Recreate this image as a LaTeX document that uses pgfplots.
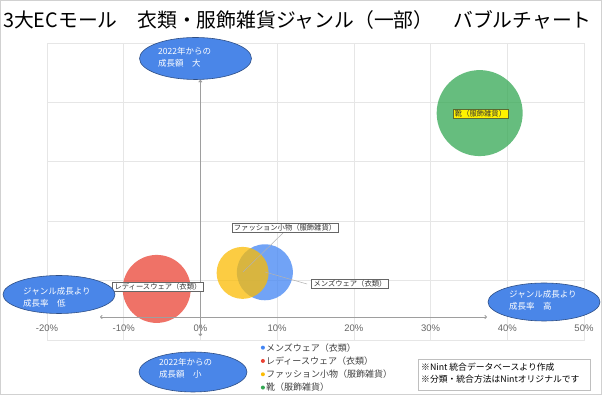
\documentclass[border=0pt]{standalone}
\usepackage{fontspec}
\setmainfont{Noto Sans CJK JP}
\newfontfamily\arial{Liberation Sans}
\usepackage{pgfplots}
\usepackage{pgfplotstable}
\pgfplotsset{compat=1.18}
\usetikzlibrary{arrows.meta}
\definecolor{gblue}{HTML}{4285F4}
\definecolor{gred}{HTML}{EA4335}
\definecolor{gyellow}{HTML}{FBBC04}
\definecolor{ggreen}{HTML}{34A853}
\definecolor{gridc}{HTML}{E6E6E6}
\definecolor{tickc}{HTML}{666666}
\definecolor{ellf}{HTML}{4A86E8}
\definecolor{elld}{HTML}{2E4F86}
\definecolor{arrowc}{HTML}{9E9E9E}
\definecolor{lblc}{HTML}{333333}
\definecolor{olive}{HTML}{5C6B2E}

% x: growth rate (%), y: growth amount (relative), r: bubble radius (pt)
\pgfplotstableread{
x y r
8.4 1.14 28
}\mens
\pgfplotstableread{
x y r
-5.7 0.86 34
}\ladies
\pgfplotstableread{
x y r
5.5 1.13 26
}\fashion
\pgfplotstableread{
x y r
36.4 3.82 43
}\shoes
\pgfplotstablegetelem{0}{r}\of\mens \let\rmens\pgfplotsretval
\pgfplotstablegetelem{0}{r}\of\ladies \let\rladies\pgfplotsretval
\pgfplotstablegetelem{0}{r}\of\fashion \let\rfashion\pgfplotsretval
\pgfplotstablegetelem{0}{r}\of\shoes \let\rshoes\pgfplotsretval

\begin{document}
\begin{tikzpicture}[x=1pt,y=1pt]
\useasboundingbox (0,0) rectangle (602,395);
\fill[white] (0,0) rectangle (602,395);
\draw[black!18] (0.5,0.5) rectangle (601.5,394.5);

\node[anchor=west, inner sep=0pt, font=\fontsize{19.8}{21}\selectfont] at (3,375)
  {3大ECモール　衣類・服飾雑貨ジャンル（一部）　バブルチャート};

\begin{axis}[
  at={(47pt,55pt)}, anchor=south west,
  scale only axis, width=537pt, height=297pt,
  xmin=-20, xmax=50, ymin=0, ymax=5,
  xtick={-20,-10,...,50}, ytick={0,1,...,5}, yticklabels={},
  grid=major, major grid style={gridc, line width=0.6pt},
  axis line style={gridc, line width=0.6pt},
  tick style={draw=none},
  /pgf/number format/assume math mode=true,
  xticklabel={\pgfmathprintnumber{\tick}\%},
  xticklabel style={anchor=center, yshift=12pt, font=\arial\fontsize{9.5}{10}\selectfont, text=tickc},
  legend image code/.code={\fill[#1, draw opacity=0] (0pt,0pt) circle (2pt);},
  legend cell align=left,
  legend style={at={(axis description cs:0.392,0.004)}, anchor=north west,
    draw=none, fill=none, row sep=0pt,
    font=\fontsize{9}{10}\selectfont,
    nodes={inner sep=1pt, text height=9pt, text depth=2.3pt, text=black!75}},
]
\addplot[forget plot, only marks, mark=*, mark size=\rmens, color=gblue,
  mark options={fill=gblue, draw opacity=0, fill opacity=0.75}] table[x=x,y=y] {\mens};
\addplot[forget plot, only marks, mark=*, mark size=\rladies, color=gred,
  mark options={fill=gred, draw opacity=0, fill opacity=0.75}] table[x=x,y=y] {\ladies};
\addplot[forget plot, only marks, mark=*, mark size=\rfashion, color=gyellow,
  mark options={fill=gyellow, draw opacity=0, fill opacity=0.75}] table[x=x,y=y] {\fashion};
\addplot[forget plot, only marks, mark=*, mark size=\rshoes, color=ggreen,
  mark options={fill=ggreen, draw opacity=0, fill opacity=0.75}] table[x=x,y=y] {\shoes};
\addlegendimage{fill=gblue}
\addlegendentry{メンズウェア（衣類）}
\addlegendimage{fill=gred}
\addlegendentry{レディースウェア（衣類）}
\addlegendimage{fill=gyellow}
\addlegendentry{ファッション小物（服飾雑貨）}
\addlegendimage{fill=ggreen}
\addlegendentry{靴（服飾雑貨）}
\end{axis}

% guide arrows
\draw[arrowc, line width=0.9pt, {To[length=2.5pt,width=4pt]}-{To[length=2.5pt,width=4pt]}] (100,78) -- (487,78);
\draw[arrowc, line width=1.1pt, {To[length=2.5pt,width=4pt]}-{To[length=2.5pt,width=4pt]}] (200.4,315) -- (200.4,59);

% leader lines
\draw[black!30, line width=0.5pt] (243,123) -- (283,162);
\draw[black!30, line width=0.5pt] (265,123) -- (307,111);

% data labels
\node[draw=black!60, fill=white, line width=0.6pt, inner xsep=2pt, inner ysep=1pt,
  font=\fontsize{7.3}{8}\selectfont, text=lblc] at (285,167) {ファッション小物（服飾雑貨）};
\node[draw=black!60, fill=white, line width=0.6pt, inner xsep=2pt, inner ysep=1pt,
  font=\fontsize{7.3}{8}\selectfont, text=lblc] at (350,111) {メンズウェア（衣類）};
\node[draw=black!60, fill=white, line width=0.6pt, inner xsep=2pt, inner ysep=1pt,
  font=\fontsize{7.3}{8}\selectfont, text=lblc] at (158,108) {レディースウェア（衣類）};
\node[draw=olive, fill=yellow, line width=0.6pt, inner xsep=2pt, inner ysep=1pt,
  font=\fontsize{7.3}{8}\selectfont, text=lblc] at (480.5,281.5) {靴（服飾雑貨）};

% annotation ellipses
\filldraw[fill=ellf, draw=elld, line width=0.6pt] (195.5,336.5) ellipse [x radius=56, y radius=21];
\node[anchor=west, align=left, inner sep=0pt, text=white, font=\fontsize{8.5}{12.5}\selectfont] at (158,337.5) {2022年からの\\成長額　大};
\filldraw[fill=ellf, draw=elld, line width=0.6pt] (59,100.5) ellipse [x radius=56, y radius=19];
\node[anchor=west, align=left, inner sep=0pt, text=white, font=\fontsize{8.5}{11.5}\selectfont] at (23,97.5) {ジャンル成長より\\成長率　低};
\filldraw[fill=ellf, draw=elld, line width=0.6pt] (544,93) ellipse [x radius=56, y radius=19];
\node[anchor=west, align=left, inner sep=0pt, text=white, font=\fontsize{8.5}{11.5}\selectfont] at (509,94.5) {ジャンル成長より\\成長率　高};
\filldraw[fill=ellf, draw=elld, line width=0.6pt] (193,23) ellipse [x radius=54, y radius=20];
\node[anchor=west, align=left, inner sep=0pt, text=white, font=\fontsize{8.5}{11.5}\selectfont] at (159,26.5) {2022年からの\\成長額　小};

% source note
\draw[black!25, line width=0.6pt] (418,36) rectangle (590,5);
\node[anchor=west, align=left, inner sep=0pt, text=black, font=\fontsize{8.8}{12}\selectfont] at (421,21.5) {※Nint 統合データベースより作成\\※分類・統合方法はNintオリジナルです};
\end{tikzpicture}
\end{document}
